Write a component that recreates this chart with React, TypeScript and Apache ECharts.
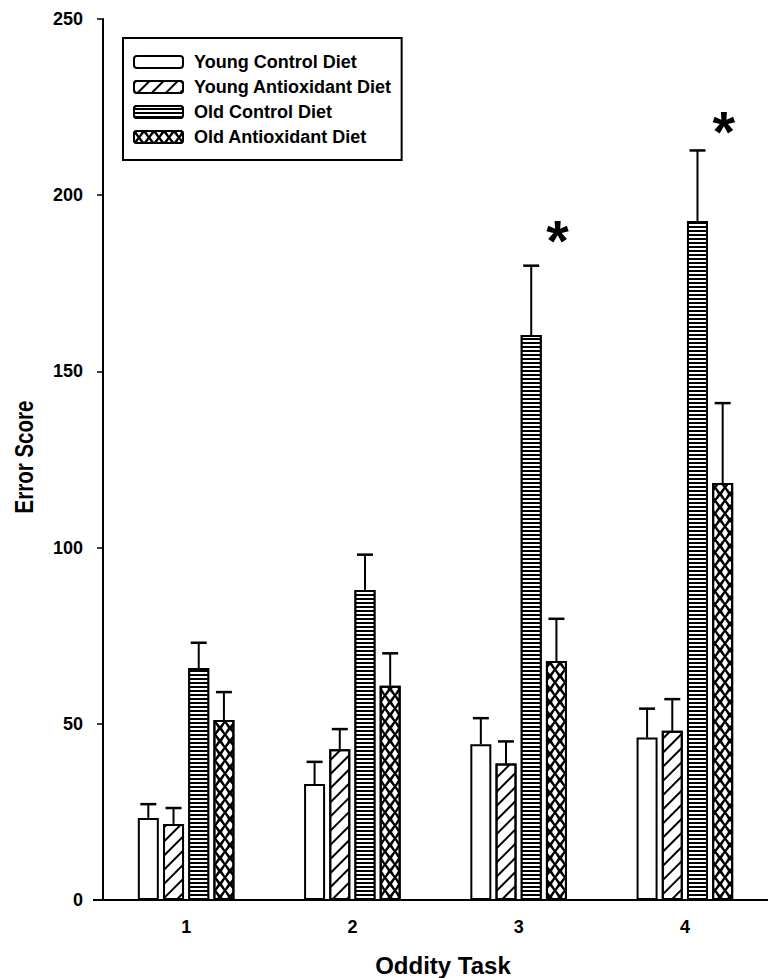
import React, { useEffect, useRef } from 'react';
import * as echarts from 'echarts';

const categories = ['1', '2', '3', '4'];
const seriesNames = ['Young Control Diet', 'Young Antioxidant Diet', 'Old Control Diet', 'Old Antioxidant Diet'];
const youngControl = [23.3, 32.9, 44.2, 46.1];
const youngControlErr = [27.2, 39.2, 51.6, 54.3];
const youngAntiox = [21.6, 42.8, 38.7, 48];
const youngAntioxErr = [26.1, 48.5, 45, 57];
const oldControl = [65.8, 88, 160.3, 192.7];
const oldControlErr = [73, 98, 180, 212.7];
const oldAntiox = [51.1, 60.8, 67.8, 118.3];
const oldAntioxErr = [59, 70, 79.8, 141];
const stars: (number | null)[] = [null, null, 189, 220];
const yMin = 0;
const yMax = 250;
const yInterval = 50;

const FONT = '"Liberation Sans", Arial, sans-serif';
const BAR_W = 21;
const BAR_GAP = 0.2;
const PITCH = BAR_W * (1 + BAR_GAP);

const values = [youngControl, youngAntiox, oldControl, oldAntiox];
const errs = [youngControlErr, youngAntioxErr, oldControlErr, oldAntioxErr];

const xPath = 'path://M0,0L2,0L5,3.6L8,0L10,0L10,1.6L6.4,5L10,8.4L10,10L8,10L5,6.4L2,10L0,10L0,8.4L3.6,5L0,1.6Z';

const decals: any[] = [
  undefined,
  { symbol: 'rect', symbolSize: 1, color: '#000', dashArrayX: [1, 0], dashArrayY: [2, 8], rotation: -Math.PI / 4 },
  { symbol: 'rect', symbolSize: 1, color: '#fff', dashArrayX: [1, 0], dashArrayY: [2, 2] },
  { symbol: xPath, symbolSize: 1, symbolKeepAspect: false, color: '#000', dashArrayX: [10, 0], dashArrayY: [13, 0] },
];
const fills = ['#fff', '#fff', '#000', '#fff'];

export default function App() {
  const ref = useRef<HTMLDivElement>(null);
  useEffect(() => {
    const chart = echarts.init(ref.current!, undefined, { renderer: 'svg', width: 768, height: 978 });
    const barSeries = seriesNames.map((name, i) => ({
      name,
      type: 'bar',
      data: values[i],
      barWidth: BAR_W,
      barGap: BAR_GAP * 100 + '%',
      itemStyle: { color: fills[i], borderColor: '#000', borderWidth: 2, decal: decals[i] },
      z: 2,
    }));
    const errSeries = seriesNames.map((name, i) => ({
      name: 'err' + i,
      type: 'custom',
      clip: false,
      z: 3,
      data: categories.map((_, c) => [c, values[i][c], errs[i][c]]),
      renderItem: (params: any, api: any) => {
        const p0 = api.coord([api.value(0), api.value(1)]);
        const p1 = api.coord([api.value(0), api.value(2)]);
        const cx = p0[0] + (i - 1.5) * PITCH;
        return {
          type: 'group',
          children: [
            { type: 'line', shape: { x1: cx, y1: p0[1], x2: cx, y2: p1[1] }, style: { stroke: '#000', lineWidth: 2 } },
            { type: 'line', shape: { x1: cx - 8, y1: p1[1], x2: cx + 8, y2: p1[1] }, style: { stroke: '#000', lineWidth: 2.5 } },
          ],
        };
      },
    }));
    const starData = stars
      .map((s, c) => (s == null ? null : [c, s]))
      .filter((d) => d != null);
    const starSeries = {
      name: 'stars',
      type: 'custom',
      clip: false,
      z: 4,
      data: starData,
      renderItem: (params: any, api: any) => {
        const p = api.coord([api.value(0), api.value(1)]);
        return {
          type: 'text',
          x: p[0] + 39,
          y: p[1] + 7,
          style: {
            text: '*',
            fontSize: 58,
            fontWeight: 'bold',
            fontFamily: FONT,
            fill: '#000',
            textAlign: 'center',
            textVerticalAlign: 'middle',
          },
        };
      },
    };
    chart.setOption({
      animation: false,
      backgroundColor: '#fff',
      grid: { left: 103, top: 19, width: 674, height: 881, containLabel: false },
      legend: {
        data: seriesNames,
        orient: 'vertical',
        left: 123,
        top: 38,
        padding: [15, 10, 14, 10],
        itemGap: 7,
        itemWidth: 49,
        itemHeight: 12,
        icon: 'roundRect',
        borderColor: '#000',
        borderWidth: 2,
        borderRadius: 0,
        textStyle: { fontSize: 18, fontWeight: 'bold', color: '#000', fontFamily: FONT, padding: [0, 0, 0, 6] },
      },
      xAxis: {
        type: 'category',
        data: categories,
        axisLine: { lineStyle: { color: '#000', width: 2 } },
        axisTick: { alignWithLabel: true, length: 7, lineStyle: { color: '#000', width: 1.5 } },
        axisLabel: { fontSize: 18, fontWeight: 'bold', color: '#000', fontFamily: FONT, margin: 18 },
        splitLine: { show: false },
      },
      yAxis: {
        type: 'value',
        min: yMin,
        max: yMax,
        interval: yInterval,
        axisLine: { show: true, lineStyle: { color: '#000', width: 2 } },
        axisTick: { show: true, length: 6, lineStyle: { color: '#000', width: 1.5 } },
        axisLabel: { fontSize: 18, fontWeight: 'bold', color: '#000', fontFamily: FONT, margin: 20 },
        splitLine: { show: false },
      },
      graphic: [
        {
          type: 'text',
          x: 24,
          y: 457,
          rotation: Math.PI / 2,
          scaleX: 0.82,
          style: {
            text: 'Error Score',
            fontSize: 25,
            fontWeight: 'bold',
            fontFamily: FONT,
            fill: '#000',
            textAlign: 'center',
            textVerticalAlign: 'middle',
          },
        },
        {
          type: 'text',
          x: 443,
          y: 965,
          style: {
            text: 'Oddity Task',
            fontSize: 24,
            fontWeight: 'bold',
            fontFamily: FONT,
            fill: '#000',
            textAlign: 'center',
            textVerticalAlign: 'middle',
          },
        },
        {
          type: 'line',
          shape: { x1: 93, y1: 900, x2: 103, y2: 900 },
          style: { stroke: '#000', lineWidth: 2 },
        },
      ],
      series: [...barSeries, ...errSeries, starSeries],
    });
    return () => chart.dispose();
  }, []);
  return <div ref={ref} style={{ position: 'absolute', left: 0, top: 0, width: 768, height: 978 }} />;
}
